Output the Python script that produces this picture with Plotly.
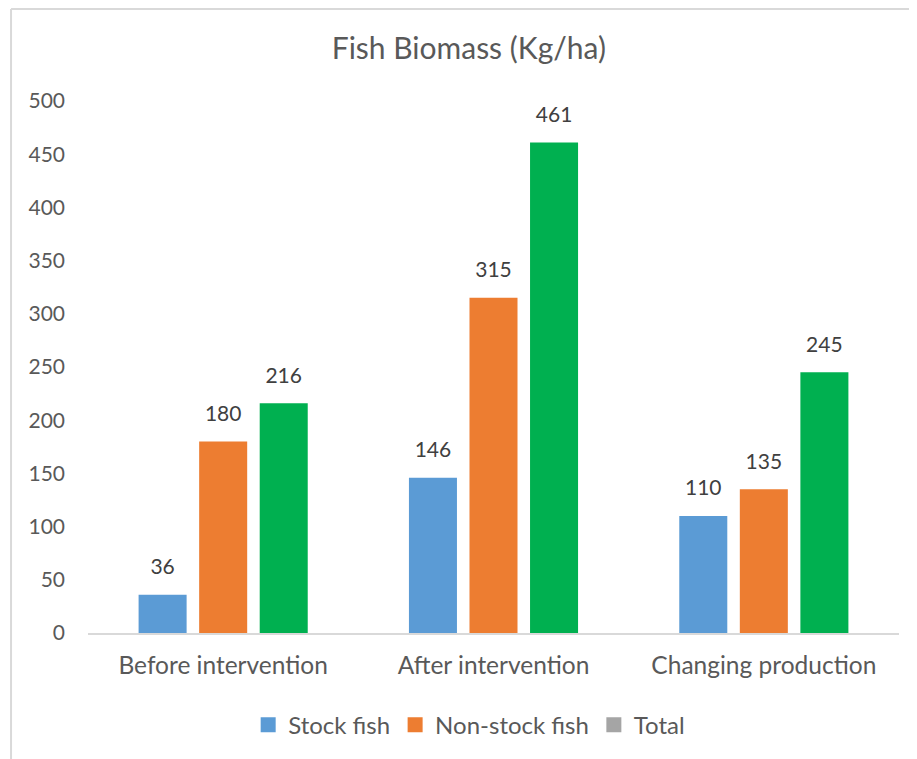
import plotly.graph_objects as go

categories = ["Before intervention", "After intervention", "Changing production"]
stock_fish = [36, 146, 110]
non_stock_fish = [180, 315, 135]
total = [216, 461, 245]
series_names = ["Stock fish", "Non-stock fish", "Total"]
bar_colors = ["#5B9BD5", "#ED7D31", "#00B050"]
legend_colors = ["#5B9BD5", "#ED7D31", "#A5A5A5"]
y_ticks = [0, 50, 100, 150, 200, 250, 300, 350, 400, 450, 500]

FONT = "Lato, Open Sans, sans-serif"
TXT = "#595959"
series_vals = [stock_fish, non_stock_fish, total]

fig = go.Figure()
for name, vals, col in zip(series_names, series_vals, bar_colors):
    fig.add_trace(go.Bar(
        x=categories, y=vals, name=name, marker=dict(color=col, line=dict(width=0)),
        showlegend=False, hoverinfo="x+y",
    ))
# data labels (grouped scatter aligned with bars)
for name, vals in zip(series_names, series_vals):
    fig.add_trace(go.Scatter(
        x=categories, y=vals, mode="markers+text", text=[str(v) for v in vals],
        textposition="top center", cliponaxis=False,
        marker=dict(size=23, opacity=0, color="white"),
        textfont=dict(family=FONT, size=21, color="#404040"),
        showlegend=False, hoverinfo="skip",
    ))
# legend entries (on a hidden overlay axis so they don't take group slots)
for name, col in zip(series_names, legend_colors):
    fig.add_trace(go.Scatter(
        x=[None], y=[None], mode="markers", name=name, xaxis="x2", yaxis="y2",
        marker=dict(symbol="square", size=15, color=col),
    ))

fig.update_layout(
    width=909, height=751,
    paper_bgcolor="white", plot_bgcolor="white",
    margin=dict(l=80, r=18, t=93, b=126),
    barmode="group", bargap=0.328, bargroupgap=0.207,
    scattermode="group", scattergap=0.328,
    title=dict(text="Fish Biomass (Kg/ha)", x=0.507, xanchor="center",
               y=1 - 40 / 751, yanchor="middle", automargin=False,
               font=dict(family=FONT, size=30, color=TXT)),
    font=dict(family=FONT, color=TXT),
    legend=dict(orientation="h", x=0.47, xanchor="center", y=-0.173, yanchor="middle",
                font=dict(family=FONT, size=24, color=TXT), itemwidth=30,
                traceorder="normal"),
    xaxis=dict(showline=True, linecolor="#D9D9D9", linewidth=2, ticks="",
               tickfont=dict(family=FONT, size=24.5, color=TXT), ticklabelstandoff=10,
               showgrid=False, fixedrange=True, automargin=False),
    yaxis=dict(range=[0, 500], tickvals=y_ticks, showgrid=False, zeroline=False,
               showline=False, ticks="", ticklabelstandoff=22,
               tickfont=dict(family=FONT, size=21, color=TXT), fixedrange=True,
               automargin=False),
    xaxis2=dict(overlaying="x", visible=False, fixedrange=True),
    yaxis2=dict(overlaying="y", visible=False, fixedrange=True),
    shapes=[
        dict(type="line", xref="paper", yref="paper", x0=-0.0949, x1=1.03, y0=1.1729, y1=1.1729,
             line=dict(color="#D9D9D9", width=2)),
        dict(type="line", xref="paper", yref="paper", x0=-0.0949, x1=-0.0949, y0=1.1729, y1=-0.25,
             line=dict(color="#D9D9D9", width=2)),
    ],
)

fig.write_html("out.html")
